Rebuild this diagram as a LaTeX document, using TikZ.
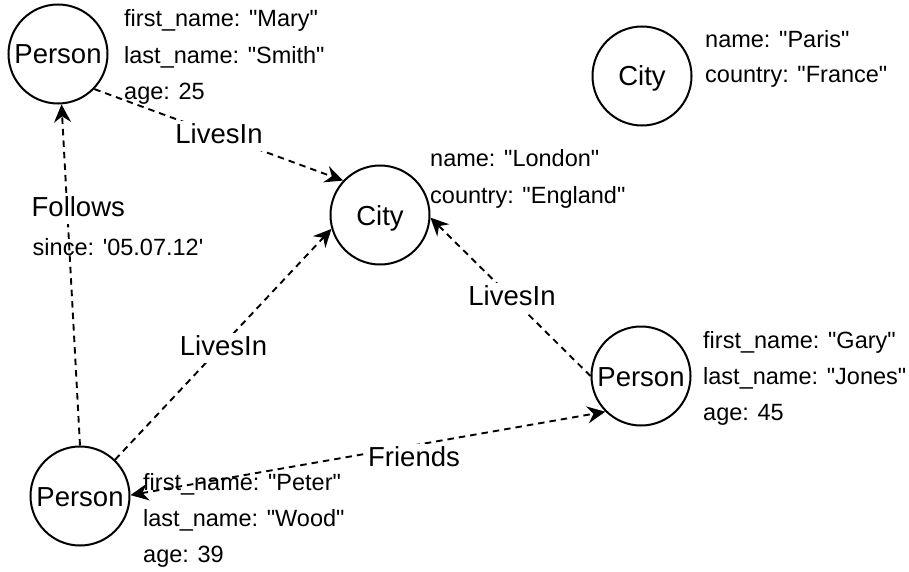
\documentclass[tikz,border=0pt]{standalone}
\usepackage{fontspec}
\setmainfont{Liberation Sans}[Ligatures=TeXOff]
\usetikzlibrary{arrows.meta}
\begin{document}
\begin{tikzpicture}[x=1pt,y=-1pt,
  entity/.style={circle,draw=black,line width=2pt,minimum size=99pt,inner sep=0pt,
    font=\fontsize{27.5}{33}\selectfont,text height=20pt,text depth=0pt},
  prop/.style={anchor=base west,inner sep=0pt,font=\fontsize{23.5}{28}\selectfont},
  head/.tip={Stealth[length=18pt,width=17pt,inset=6pt]},
  rel/.style={draw=black,line width=1.9pt,dash pattern=on 6.5pt off 5pt,-head},
  reltext/.style={anchor=base,fill=white,inner sep=0.5pt,text height=22pt,text depth=7pt,
    font=\fontsize{27.5}{33}\selectfont},
]
\useasboundingbox (0,0) rectangle (909,572);

% entities
\node[entity] (mary)   at (58,54)   {Person};
\node[entity] (paris)  at (642,76)  {City};
\node[entity] (london) at (380,215) {City};
\node[entity] (gary)   at (641,376) {Person};
\node[entity] (peter)  at (80,496)  {Person};

% relationships
\draw[rel] (mary.-44) -- (london.137);
\draw[rel] (peter.90) -- (mary.-86);
\draw[rel] (peter.46) -- (london.196);
\draw[rel] (gary.180) -- (london.-3);
\draw[rel,head-head] (peter.1) -- (gary.225);

% relationship labels
\node[reltext] (l1) at (219,144)   {LivesIn};
\node[reltext] (l2) at (78.3,216.7) {Follows};
\node[anchor=base,inner sep=0pt,font=\fontsize{23.5}{28}\selectfont] (l2p) at (118,255) {since: '05.07.12'};
\node[reltext] (l3) at (223.5,355) {LivesIn};
\node[reltext] (l4) at (512,305)   {LivesIn};
\node[reltext] (l5) at (414,466.7) {Friends};

% properties
\node[prop] (m1) at (124,27)  {first\_name: "Mary"};
\node[prop] (m2) at (124,64)  {last\_name: "Smith"};
\node[prop] (m3) at (124,100) {age: 25};

\node[prop] (p1) at (705,48) {name: "Paris"};
\node[prop] (p2) at (705,83) {country: "France"};

\node[prop] (c1) at (430,167) {name: "London"};
\node[prop] (c2) at (430,203) {country: "England"};

\node[prop] (g1) at (703,348) {first\_name: "Gary"};
\node[prop] (g2) at (703,384) {last\_name: "Jones"};
\node[prop] (g3) at (703,420) {age: 45};

\node[prop] (e1) at (143,490) {first\_name: "Peter"};
\node[prop] (e2) at (143,526) {last\_name: "Wood"};
\node[prop] (e3) at (143,562) {age: 39};
\end{tikzpicture}
\end{document}
